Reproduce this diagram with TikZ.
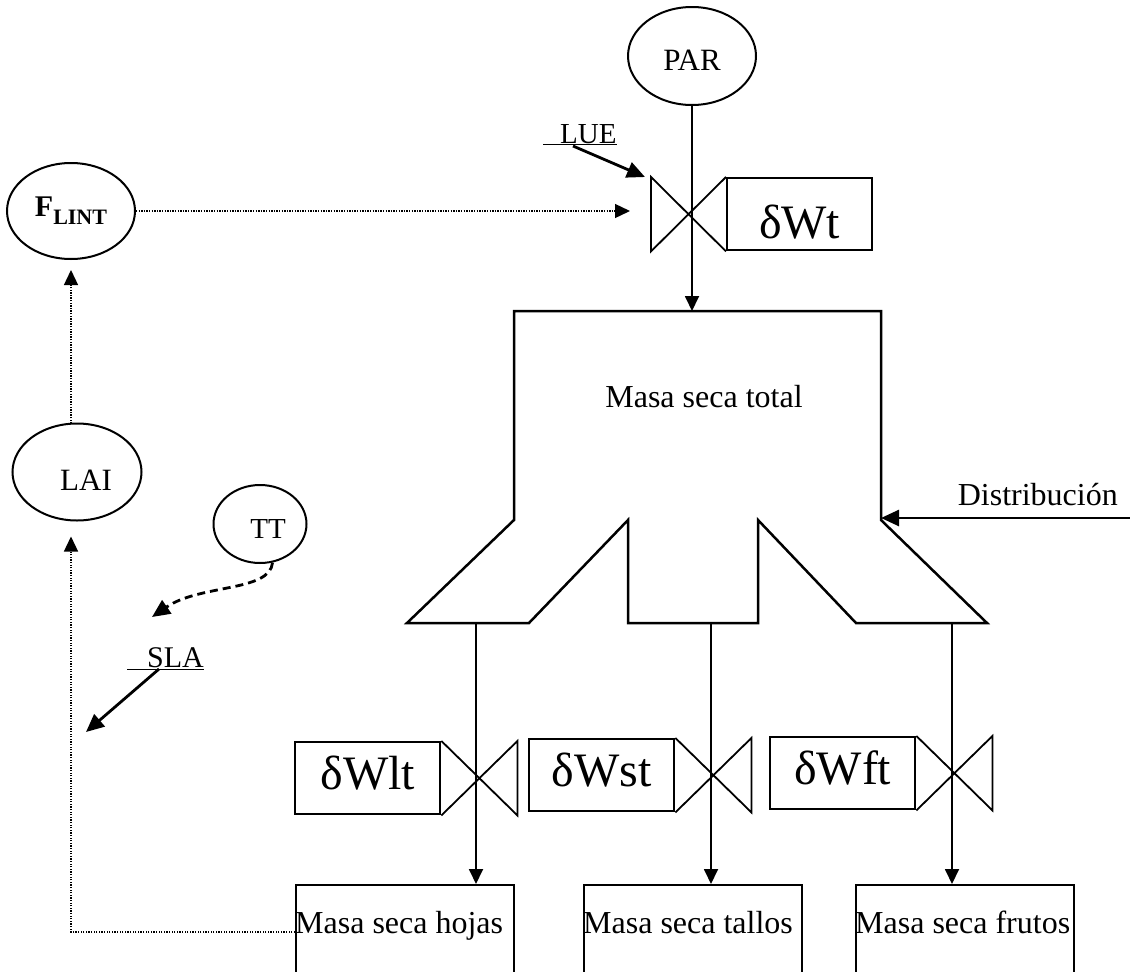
\documentclass[tikz,border=0pt]{standalone}
\usepackage{fontspec}
\setmainfont{Liberation Serif}
\usetikzlibrary{calc, positioning, arrows.meta, shapes.geometric}

\newcommand{\letra}[1]{\fontsize{#1}{#1}\selectfont}

\begin{document}
\begin{tikzpicture}[
    x=1pt, y=-1pt,
    >={Triangle[length=15pt, width=14pt]},
    every node/.style={font=\letra{32}},
    elip/.style={draw, ellipse, line width=2pt, inner sep=0pt},
    caja/.style={draw, rectangle, line width=2.4pt, inner sep=0pt, minimum width=145pt, minimum height=72pt, anchor=north west, font=\letra{48}},
    masa/.style={draw, rectangle, line width=2.2pt, minimum width=218pt, minimum height=120pt, anchor=north west},
    flujo/.style={line width=1.8pt},
    cuerpo/.style={line width=2.5pt},
    grueso/.style={line width=2.8pt, >={Triangle[length=18pt, width=16pt]}},
    punteado/.style={line width=1.3pt, dash pattern=on 1.3pt off 1.3pt},
    discont/.style={line width=2.8pt, dash pattern=on 8pt off 5pt, >={Triangle[length=18pt, width=16pt]}},
]
    \useasboundingbox (0,0) rectangle (1130,972);
    \clip (0,0) rectangle (1130,972);

    % Variables de entrada
    \node[elip, minimum width=128pt, minimum height=98pt, font=\letra{31}, text height=28pt] (par) at (692,56) {PAR};
    \node[elip, minimum width=128pt, minimum height=96pt] (flint) at (71,211) {\bfseries\letra{30}F\raisebox{-8pt}{\letra{22}LINT}};
    \node[elip, minimum width=129pt, minimum height=97pt, font=\letra{31}, text height=36pt] (lai) at (77,472) {\hspace{18pt}LAI};
    \node[elip, minimum width=93pt, minimum height=78pt, font=\letra{29}, text height=28pt] (tt) at (260,524) {\hspace{16pt}TT};

    % Valvula de crecimiento total
    \node[caja, text height=50pt] (dwt) at (726,177) {δWt};
    \coordinate (vt) at ($(dwt.north west)+(-75,0)$);
    \coordinate (vtin) at ($(vt)+(-21,0)$);
    \draw[flujo] (dwt.north west) -- ($(dwt.south west)+(-75,0)$) -- (vt) -- (dwt.south west);

    \node[anchor=base west, inner sep=0pt, font=\letra{29}] (lue) at (543,143) {\underline{\hspace{17pt}LUE}};
    \draw[grueso, ->] ($(lue.base west)+(30,3)$) -- ($(vt)+(-6,0)$);

    % Masa seca total
    \coordinate (tope) at (692,311);
    \draw[cuerpo] (514,311) -- (881,311) -- (881,520) coordinate (dist) -- (987,623) -- (856,623)
        -- (758,520) -- (758,623) -- (628,623) -- (628,520) -- (529,623) -- (407,623) -- (514,520) -- cycle;
    \node[anchor=base] (total) at (704,407) {Masa seca total};
    \draw[flujo, ->] (par.south) -- (tope);

    \coordinate (distin) at (1130,518);
    \draw[grueso, line width=2.6pt, ->] (distin) -- (distin -| dist);
    \node[anchor=base east, inner sep=0pt] (distlbl) at (1118,505) {Distribución};

    % Distribucion hacia los organos
    \foreach \nom/\x/\y/\lab/\ent/\mx in {
        hojas/294/741/δWlt/476/295,
        tallos/528/738/δWst/711/583,
        frutos/769/736/δWft/952/855} {
        \node[caja, text height=24pt] (dw\nom) at (\x,\y) {\lab};
        \draw[flujo] (dw\nom.north east) -- ($(dw\nom.south east)+(76,0)$) -- ($(dw\nom.north east)+(76,0)$) -- (dw\nom.south east);
        \node[masa] (m\nom) at (\mx,884) {};
        \node[anchor=base west, inner sep=0pt] (t\nom) at ($(m\nom.north west)+(0,49)$) {Masa seca \nom};
        \coordinate (s\nom) at (\ent,623);
        \draw[flujo, ->] (s\nom) -- (s\nom |- m\nom.north);
    }

    % Area foliar
    \coordinate (ttfin) at (152,617);
    \draw[discont, ->] (tt.-72) .. controls (270,592) and (200,584) .. (ttfin);
    \node[anchor=base west, inner sep=0pt, font=\letra{30}] (sla) at (127,667) {\underline{\hspace{20pt}SLA}};
    \coordinate (slafin) at (86,732);
    \draw[grueso, ->] ($(sla.base west)+(32,2)$) -- (slafin);

    \coordinate (laiin) at ($(lai.south)+(-6,15)$);
    \draw[punteado, ->] ($(mhojas.north west)+(0,48)$) -| (laiin);
    \draw[punteado, ->] ($(lai.north)+(-6,1)$) -- ($(flint.south)+(0,10)$);
    \draw[punteado, ->] (flint.east) -- (flint.east -| vtin);

\end{tikzpicture}
\end{document}
